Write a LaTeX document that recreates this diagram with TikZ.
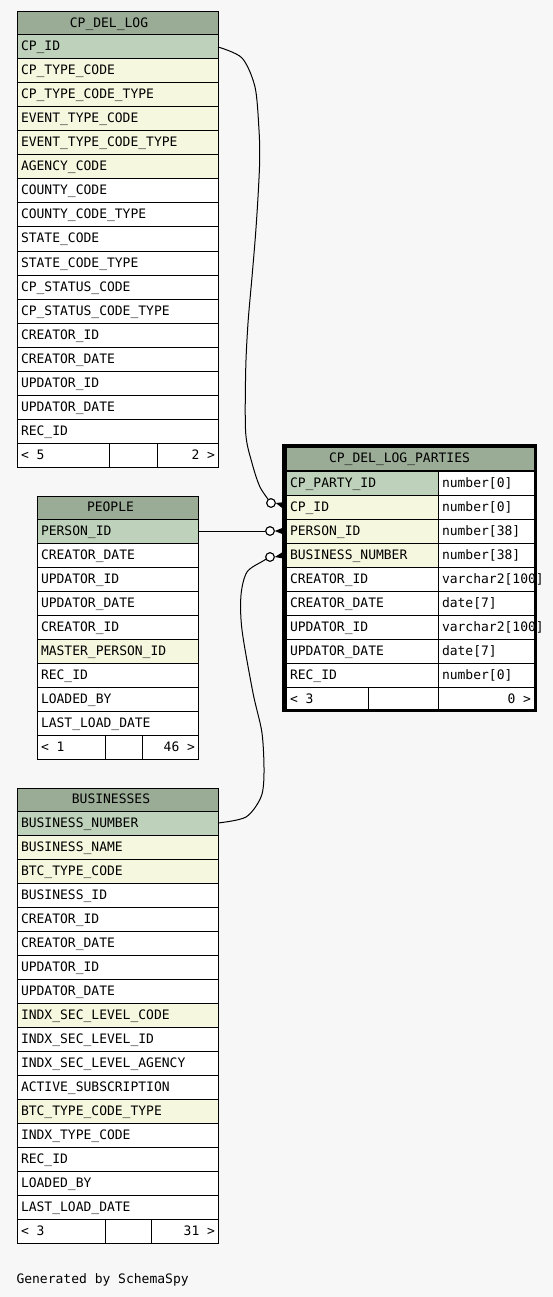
\documentclass[tikz,border=0pt]{standalone}
\usepackage{fontspec}
\setmonofont{DejaVu Sans Mono}
\definecolor{bgc}{RGB}{247,247,247}
\definecolor{hdr}{RGB}{154,171,150}
\definecolor{pk}{RGB}{190,209,186}
\definecolor{fk}{RGB}{245,247,222}
\tikzset{
  cell/.style={draw=black, line width=1pt, minimum height=24pt, inner sep=0pt, outer sep=0pt, anchor=north west},
  lbl/.style={anchor=base west, inner sep=0pt, outer sep=0pt, font=\ttfamily\fontsize{13}{13}\selectfont, text=black},
  hlbl/.style={lbl, anchor=base},
  conn/.style={draw=black, line width=1pt},
  circ/.style={circle, draw=black, fill=white, line width=1pt, minimum size=8.5pt, inner sep=0pt},
  crow/.style={fill=black},
  frame/.style={draw=black, line width=3.5pt, inner sep=0pt, outer sep=0pt, anchor=north west}
}
\newcommand\tblrows[5]{%
  \foreach \f/\t [count=\i] in {#5} {%
    \pgfmathsetmacro\yy{-(#3)-24*(\i-1)}%
    \node[cell, fill=\f, minimum width=#4] (#1-\i) at (#2,\yy) {};
    \node[lbl] (#1-\i-t) at ([xshift=4pt,yshift=-16pt]#1-\i.north west) {\t};
  }}
\newcommand\tblhead[6]{% prefix, x, top, width, text centre x, text
  \node[cell, fill=hdr, minimum width=#4, minimum height=23pt] (#1-h) at (#2,-#3) {};
  \node[hlbl] (#1-ht) at (#5,-#3-15.5) {#6};}
\newcommand\tblfoot[8]{% prefix, x0, top, x1, x2, x3, left, right
  \node[cell, fill=white, minimum width={#4-#2}] (#1-fa) at (#2,-#3) {};
  \node[cell, fill=white, minimum width={#5-#4}] (#1-fb) at (#4,-#3) {};
  \node[cell, fill=white, minimum width={#6-#5}] (#1-fc) at (#5,-#3) {};
  \node[lbl] (#1-fl) at ([xshift=4pt,yshift=-16pt]#1-fa.north west) {#7};
  \node[lbl, anchor=base east] (#1-fr) at ([xshift=-3pt,yshift=-16pt]#1-fc.north east) {#8};}
\begin{document}
\begin{tikzpicture}[x=1pt,y=1pt]
\fill[bgc] (0,0) rectangle (553,-1297);
\useasboundingbox (0,0) rectangle (553,-1297);

% ---------- CP_DEL_LOG ----------
\tblhead{dl}{17}{12}{201}{109}{CP\_DEL\_LOG}
\tblrows{dl}{17}{35}{201}{pk/CP\_ID, fk/CP\_TYPE\_CODE, fk/CP\_TYPE\_CODE\_TYPE, fk/EVENT\_TYPE\_CODE, fk/EVENT\_TYPE\_CODE\_TYPE, fk/AGENCY\_CODE, white/COUNTY\_CODE, white/COUNTY\_CODE\_TYPE, white/STATE\_CODE, white/STATE\_CODE\_TYPE, white/CP\_STATUS\_CODE, white/CP\_STATUS\_CODE\_TYPE, white/CREATOR\_ID, white/CREATOR\_DATE, white/UPDATOR\_ID, white/UPDATOR\_DATE, white/REC\_ID}
\tblfoot{dl}{17}{443}{109}{157}{218}{< 5}{2 >}

% ---------- PEOPLE ----------
\tblhead{pe}{37}{496}{161}{110.5}{PEOPLE}
\tblrows{pe}{37}{519}{161}{pk/PERSON\_ID, white/CREATOR\_DATE, white/UPDATOR\_ID, white/UPDATOR\_DATE, white/CREATOR\_ID, fk/MASTER\_PERSON\_ID, white/REC\_ID, white/LOADED\_BY, white/LAST\_LOAD\_DATE}
\tblfoot{pe}{37}{735}{105}{142}{198}{< 1}{46 >}

% ---------- BUSINESSES ----------
\tblhead{bu}{17}{788}{201}{111}{BUSINESSES}
\tblrows{bu}{17}{811}{201}{pk/BUSINESS\_NUMBER, fk/BUSINESS\_NAME, fk/BTC\_TYPE\_CODE, white/BUSINESS\_ID, white/CREATOR\_ID, white/CREATOR\_DATE, white/UPDATOR\_ID, white/UPDATOR\_DATE, fk/INDX\_SEC\_LEVEL\_CODE, white/INDX\_SEC\_LEVEL\_ID, white/INDX\_SEC\_LEVEL\_AGENCY, white/ACTIVE\_SUBSCRIPTION, fk/BTC\_TYPE\_CODE\_TYPE, white/INDX\_TYPE\_CODE, white/REC\_ID, white/LOADED\_BY, white/LAST\_LOAD\_DATE}
\tblfoot{bu}{17}{1219}{105}{151}{218}{< 3}{31 >}

% ---------- CP_DEL_LOG_PARTIES ----------
\tblhead{cp}{286}{447}{248}{399.5}{CP\_DEL\_LOG\_PARTIES}
\tblrows{cp}{286}{471}{152}{pk/CP\_PARTY\_ID, fk/CP\_ID, fk/PERSON\_ID, fk/BUSINESS\_NUMBER, white/CREATOR\_ID, white/CREATOR\_DATE, white/UPDATOR\_ID, white/UPDATOR\_DATE, white/REC\_ID}
\tblrows{ct}{438}{471}{96}{white/{number[0]}, white/{number[0]}, white/{number[38]}, white/{number[38]}, white/{varchar2[100]}, white/{date[7]}, white/{varchar2[100]}, white/{date[7]}, white/{number[0]}}
\tblfoot{cp}{286}{687}{368}{438}{534}{< 3}{0 >}

% ---------- connectors ----------
\node[circ] (c1) at (271,-503) {};
\node[circ] (c2) at (270,-531) {};
\node[circ] (c3) at (270,-557) {};

\draw[conn] plot[smooth, tension=0.5] coordinates {(dl-1.east) (242,-58) (255,-87) (259,-130) (259.7,-160) (258,-197) (255.5,-235) (252,-277) (248,-323) (245.7,-370) (245.7,-433) (252,-463) (260,-487) (c1)};
\draw[conn] (pe-1.east) -- (c2);
\draw[conn] plot[smooth, tension=0.5] coordinates {(bu-1.east) (246,-817) (261,-797) (264,-773) (262,-733) (253,-693) (242,-630) (241,-595) (247,-572) (263,-561) (c3)};

\node[circ] at (c1) {};
\node[circ] at (c2) {};
\node[circ] at (c3) {};

\fill[crow] (c1.east) -- ([yshift=5pt]cp-2.west) -- ([yshift=-4pt]cp-2.west) -- cycle;
\fill[crow] (c2.east) -- ([yshift=4.5pt]cp-3.west) -- ([yshift=-4.5pt]cp-3.west) -- cycle;
\fill[crow] (c3.east) -- ([yshift=5pt]cp-4.west) -- ([yshift=-4pt]cp-4.west) -- cycle;

\node[frame, minimum width=251.5pt, minimum height=264.5pt] (cpframe) at (283.75,-445.75) {};

\node[lbl] (gen) at (16.5,-1283) {Generated by SchemaSpy};
\end{tikzpicture}
\end{document}
